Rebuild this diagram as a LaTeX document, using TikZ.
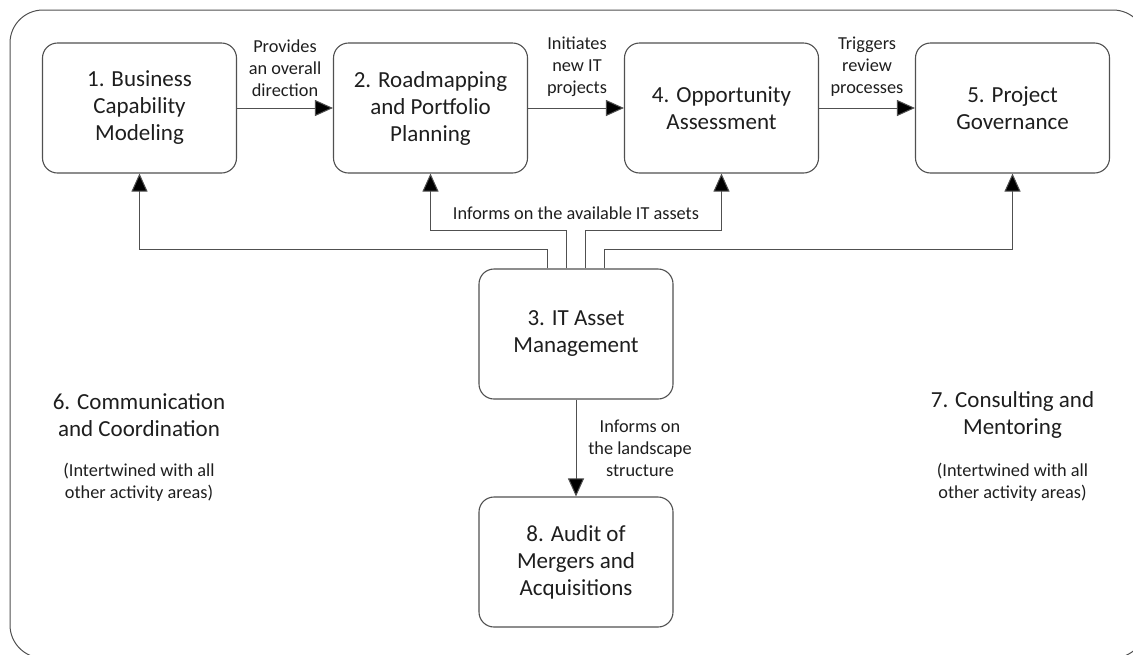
\documentclass[tikz,border=0pt]{standalone}
\usepackage{fontspec}
\setmainfont{Carlito}
\usetikzlibrary{arrows.meta,calc}
\definecolor{linec}{RGB}{80,80,80}
\definecolor{textc}{RGB}{30,30,30}
\tikzset{
  box/.style={draw=linec, line width=1.1pt, rounded corners=15pt, minimum width=194pt, minimum height=130pt, inner sep=0pt, align=center, text=textc, font=\fontsize{23}{27}\selectfont},
  title/.style={align=center, inner sep=0pt, text=textc, font=\fontsize{23}{27}\selectfont},
  lbl/.style={align=center, inner sep=0pt, text=textc, font=\fontsize{18.3}{22}\selectfont},
  conn/.style={draw=linec, line width=1pt, -{Triangle[length=18pt,width=16pt,fill=black]}},
}
\begin{document}
\begin{tikzpicture}[x=1pt,y=-1pt]
\useasboundingbox (0,0) rectangle (1133,654);
\begin{scope}
\clip (0,0) rectangle (1133,654);
\draw[linec, line width=1pt, rounded corners=33pt] (10,10) rectangle (1146,658);
\end{scope}
% boxes
\node[box] (b1) at (139.5,108) {1. Business\\Capability\\Modeling};
\node[box] (b2) at (430.5,108) {2. Roadmapping\\and Portfolio\\Planning};
\node[box] (b4) at (721.5,108) {4. Opportunity\\Assessment};
\node[box] (b5) at (1012.5,108) {5. Project\\Governance};
\node[box] (b3) at (576,334) {3. IT Asset\\Management};
\node[box] (b8) at (576,562) {8. Audit of\\Mergers and\\Acquisitions};
% free-standing areas
\node[title] (t6) at (139,415) {6. Communication\\and Coordination};
\node[lbl] (s6) at (139,482) {(Intertwined with all\\other activity areas)};
\node[title] (t7) at (1012.5,415) {7. Consulting and\\Mentoring};
\node[lbl] (s7) at (1012.5,482) {(Intertwined with all\\other activity areas)};
% horizontal flow
\draw[conn] (b1.east) -- (b2.west);
\draw[conn] (b2.east) -- (b4.west);
\draw[conn] (b4.east) -- (b5.west);
\node[lbl] (l12) at (285,68) {Provides\\an overall\\direction};
\node[lbl] (l24) at (577,67) {Initiates\\new IT\\projects};
\node[lbl] (l45) at (867,67) {Triggers\\review\\processes};
% from IT asset management
\coordinate (o1) at ([xshift=-29pt]b3.north);
\coordinate (o2) at ([xshift=-10pt]b3.north);
\coordinate (o3) at ([xshift=9pt]b3.north);
\coordinate (o4) at ([xshift=28pt]b3.north);
\draw[conn] (o1) -- ++(0,-19) -| (b1.south);
\draw[conn] (o2) -- ++(0,-38) -| (b2.south);
\draw[conn] (o3) -- ++(0,-38) -| (b4.south);
\draw[conn] (o4) -- ++(0,-19) -| (b5.south);
\node[lbl] (l3a) at (576,213) {Informs on the available IT assets};
\draw[conn] (b3.south) -- (b8.north);
\node[lbl] (l38) at (640,448) {Informs on\\the landscape\\structure};
\end{tikzpicture}
\end{document}
